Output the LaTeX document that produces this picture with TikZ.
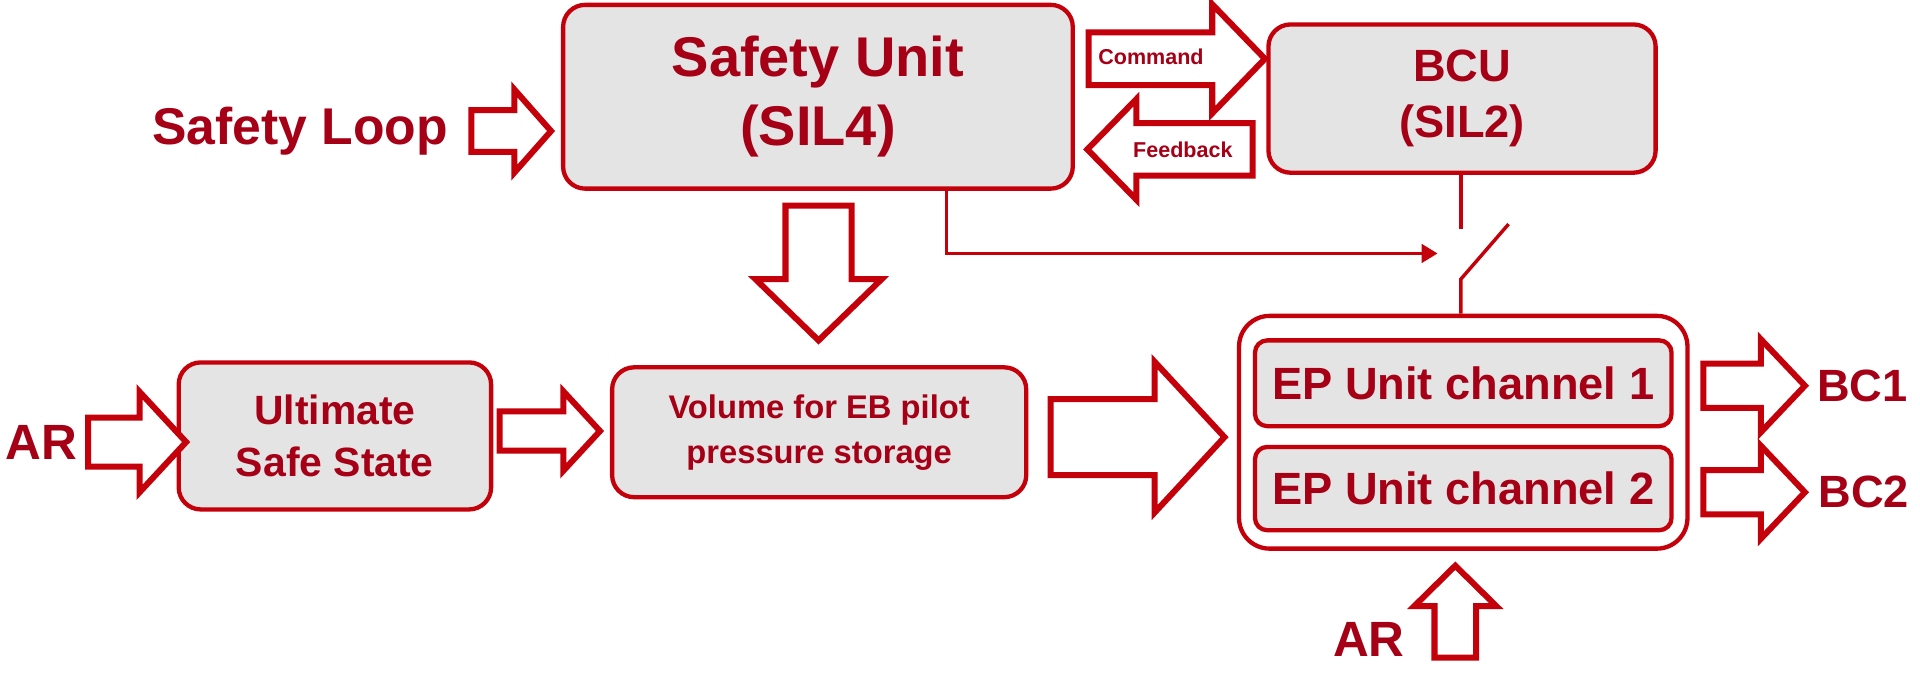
\documentclass[tikz,border=0pt]{standalone}
\usepackage{fontspec}
\setmainfont{Liberation Sans}
\usetikzlibrary{arrows.meta}
\definecolor{boxred}{RGB}{196,0,10}
\definecolor{txtred}{RGB}{165,0,22}
\definecolor{boxgray}{RGB}{228,228,228}
\begin{document}
\begin{tikzpicture}[
	x=0.01cm, y=-0.01cm,
	every node/.style={font=\bfseries, text=txtred},
	unitbox/.style={shape=rectangle, rounded corners=0.18cm, draw=boxred, fill=boxgray, line width=1pt, align=center, inner sep=0},
	arrowline/.style={draw=boxred, fill=white, line width=1.4pt, line join=miter},
	pics/bigarrow/.style args={#1/#2/#3/#4}{code={
		\draw[arrowline] (0,-#2) -- (#1-#4,-#2) -- (#1-#4,-#3) -- (#1,0) -- (#1-#4,#3) -- (#1-#4,#2) -- (0,#2) -- cycle;
	}},
]
\useasboundingbox (0,0) rectangle (1568,569);
% boxes
\node[unitbox, minimum width=4.16cm, minimum height=1.5cm, font=\bfseries\fontsize{13}{16}\selectfont] (safety) at (668,79) {Safety Unit\\(SIL4)};
\node[unitbox, minimum width=3.16cm, minimum height=1.21cm, font=\bfseries\fontsize{10.5}{13}\selectfont] (bcu) at (1194,80.5) {BCU\\(SIL2)};
\node[unitbox, minimum width=2.55cm, minimum height=1.2cm, font=\bfseries\fontsize{9.5}{12}\selectfont] (uss) at (273.5,356) {Ultimate\\Safe State};
\node[unitbox, minimum width=3.38cm, minimum height=1.06cm, font=\bfseries\fontsize{7.6}{10.5}\selectfont] (vol) at (669,353) {Volume for EB pilot\\pressure storage};
\node[unitbox, fill=white, rounded corners=0.25cm, minimum width=3.66cm, minimum height=1.9cm] (ep) at (1195,353) {};
\node[unitbox, rounded corners=0.1cm, minimum width=3.4cm, minimum height=0.7cm, font=\bfseries\fontsize{10.5}{12}\selectfont] (ch1) at (1195,313) {EP Unit channel 1};
\node[unitbox, rounded corners=0.1cm, minimum width=3.4cm, minimum height=0.68cm, font=\bfseries\fontsize{10.5}{12}\selectfont] (ch2) at (1195,399) {EP Unit channel 2};

% block arrows
\pic at (385,107) {bigarrow=65/17/34/30};
\pic at (889,48) {bigarrow=144/21.5/44.5/43};
\pic[rotate=180] at (1023,122) {bigarrow=135/21.5/41/40};
\pic[rotate=-90] at (668.5,168) {bigarrow=110/27/51.5/50};
\pic at (72,361) {bigarrow=80/20/41/38};
\pic at (408,352) {bigarrow=82/16/32.5/30};
\pic at (858,357) {bigarrow=142/31/61.5/57};
\pic at (1391,315) {bigarrow=83/18/38/36};
\pic at (1391,402) {bigarrow=83/18/38/36};
\pic[rotate=90] at (1188.5,537) {bigarrow=75/17/33.5/33};

% labels
\node[font=\bfseries\fontsize{5}{6}\selectfont] (cmdlabel) at (940,46) {Command};
\node[font=\bfseries\fontsize{5}{6}\selectfont] (fblabel) at (966,122) {Feedback};
\node[font=\bfseries\fontsize{12}{14}\selectfont] (looplabel) at (245,107) {Safety Loop};
\node[font=\bfseries\fontsize{11.5}{14}\selectfont] (arleft) at (34,361) {AR};
\node[font=\bfseries\fontsize{11.5}{14}\selectfont] (arbottom) at (1118,522) {AR};
\node[font=\bfseries\fontsize{10.5}{13}\selectfont] (bcone) at (1521,315) {BC1};
\node[font=\bfseries\fontsize{10.5}{13}\selectfont] (bctwo) at (1522,402) {BC2};

% switch
\coordinate (tap) at (773,154);
\coordinate (swin) at (1174,207);
\coordinate (swtop) at (1193,187);
\coordinate (swbot) at (1193,228);
\coordinate (blade) at (1232,183);
\draw[boxred, line width=0.8pt, -{Triangle[length=0.13cm,width=0.15cm]}] (tap) |- (swin);
\draw[boxred, line width=0.8pt] (bcu.south -| swtop) -- (swtop);
\draw[boxred, line width=0.8pt] (blade) -- (swbot) -- (ep.north -| swbot);
\end{tikzpicture}
\end{document}
